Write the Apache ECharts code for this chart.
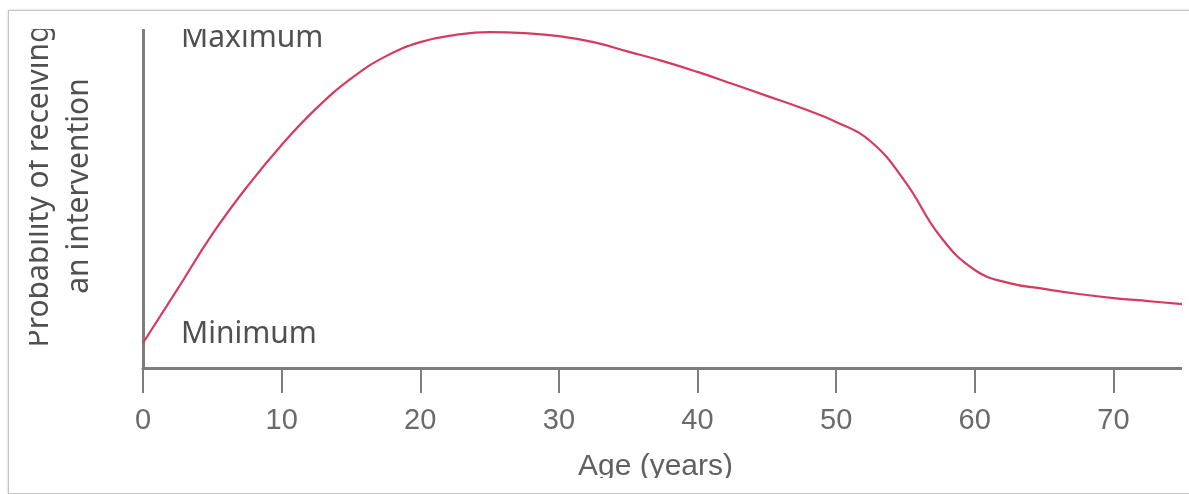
<!DOCTYPE html>
<html>
<head>
<meta charset="utf-8">
<script src="https://cdn.jsdelivr.net/npm/echarts@6/dist/echarts.min.js"></script>
<style>
  html, body { margin:0; padding:0; background:#fff; width:1189px; height:494px; overflow:hidden; }
  #frame { position:absolute; left:8px; top:10px; width:1250px; height:482px; border:1px solid #c4c4c4; box-shadow:0 0 3px rgba(0,0,0,0.18); background:#fff; }
  #clip { position:absolute; left:29px; top:29px; width:1153px; height:449px; overflow:hidden; }
  #chart { position:absolute; left:-29px; top:-29px; width:1300px; height:494px; }
</style>
</head>
<body>
<div id="frame"></div>
<div id="clip"><div id="chart"></div></div>
<script>
// Age (years) along the x axis
const ages = [0, 2.5, 5, 7.5, 10, 12.5, 15, 17.5, 20, 22.5, 25, 27.5, 30, 32.5, 35, 37.5, 40, 42.5, 45, 47.5, 50, 52.5, 55, 57.5, 60, 62.5, 65, 67.5, 70, 72.5, 75];
// Relative probability of receiving an intervention (0 = axis, 100 = maximum)
const probability = [7.4, 23.4, 39.6, 53.6, 66, 76.8, 85.6, 92.2, 96.4, 98.5, 99.4, 99.1, 98.2, 96.4, 93.6, 90.8, 87.6, 84.1, 80.5, 76.9, 72.8, 67, 55, 39, 29, 25.1, 23.4, 21.9, 20.7, 19.8, 18.9];
const xTicks = [0, 10, 20, 30, 40, 50, 60, 70];
const yLabels = ['Maximum', 'Minimum'];
const yTitle = ['Probability of receiving', 'an intervention'];
const xTitle = 'Age (years)';

const chart = echarts.init(document.getElementById('chart'), null, { renderer: 'canvas' });
const axisGrey = '#7d7d7d';
const textStyle = { fill: '#505050', fontFamily: 'Noto Sans', fontSize: 30 };
chart.setOption({
  animation: false,
  backgroundColor: 'transparent',
  grid: { left: 143, top: 30, right: 48, bottom: 126, containLabel: false },
  xAxis: {
    type: 'value', min: 0, max: 80, interval: 10,
    axisLine: { show: true, onZero: false, lineStyle: { color: axisGrey, width: 3 } },
    axisTick: { show: true, length: 25, lineStyle: { color: axisGrey, width: 2 } },
    axisLabel: {
      margin: 38, color: '#6a6a6a', fontFamily: 'Liberation Sans', fontSize: 29,
      formatter: v => xTicks.includes(v) ? String(v) : ''
    },
    splitLine: { show: false },
    name: xTitle, nameLocation: 'middle', nameGap: 84,
    nameTextStyle: { color: '#606060', fontFamily: 'Liberation Sans', fontSize: 30, padding: [0, 84, 0, 0] }
  },
  yAxis: {
    type: 'value', min: 0, max: 100,
    axisLine: { show: true, lineStyle: { color: axisGrey, width: 3 } },
    axisTick: { show: false },
    axisLabel: { show: false },
    splitLine: { show: false }
  },
  graphic: [
    { type: 'text', left: 181, top: 23, style: Object.assign({ text: yLabels[0] }, textStyle) },
    { type: 'text', left: 181, top: 319, style: Object.assign({ text: yLabels[1] }, textStyle) },
    { type: 'text', x: 59, y: 186, rotation: Math.PI / 2,
      style: Object.assign({ text: yTitle.join('\n'), lineHeight: 40, align: 'center', verticalAlign: 'middle' }, textStyle) }
  ],
  series: [{
    type: 'line',
    data: ages.map((a, i) => [a, probability[i]]),
    smooth: 0.45,
    showSymbol: false,
    clip: false,
    lineStyle: { color: '#d63a5e', width: 2.2 }
  }]
});
</script>
</body>
</html>
